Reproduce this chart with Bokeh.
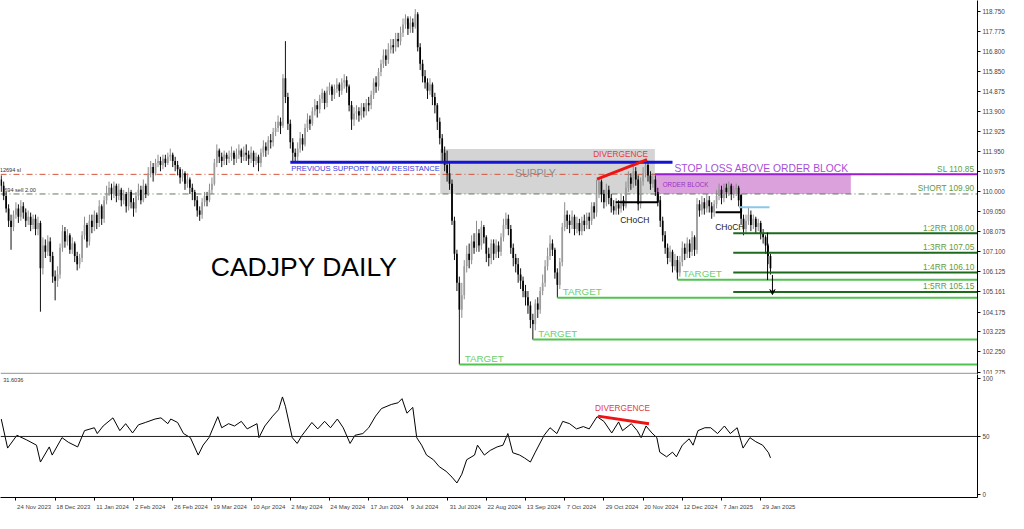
from bokeh.plotting import figure
from bokeh.layouts import column
from bokeh.models import (Range1d, FixedTicker, NumeralTickFormatter, Span, Label,
                          Arrow, VeeHead, CustomJSTickFormatter, ColumnDataSource)
from bokeh.core.properties import value
from bokeh.embed import file_html
from bokeh.resources import INLINE

# ---------------- data (CADJPY daily) ----------------
close = [
 110.3,109.8,109.2,108.6,108.3,108.9,109.2,108.8,109.3,109.0,
 108.6,108.8,108.4,108.7,108.2,108.5,106.3,107.4,107.1,107.6,
 106.9,105.9,105.7,106.0,107.3,108.1,107.6,107.9,107.2,107.5,
 106.9,106.5,106.8,107.9,108.4,107.6,108.6,108.3,108.9,108.5,
 109.3,108.7,109.6,109.9,110.2,109.9,110.3,109.8,110.1,109.6,
 109.9,109.3,110.0,109.5,109.2,109.8,110.1,109.6,110.3,109.9,
 110.9,111.2,110.9,111.4,111.5,111.3,111.6,111.4,111.7,111.8,
 111.5,111.3,111.1,110.7,110.9,110.4,110.6,110.2,110.0,109.6,
 109.1,108.9,109.5,109.8,109.6,110.1,110.4,111.4,112.0,111.7,
 111.5,111.8,111.6,111.7,111.9,111.6,111.8,112.0,111.7,111.9,
 111.8,111.6,111.9,111.5,111.7,111.4,111.9,112.2,112.0,112.5,
 112.4,112.9,113.1,113.4,113.2,115.5,114.6,113.3,112.4,111.9,
 111.7,112.1,112.6,112.3,113.1,113.5,113.3,113.9,114.2,114.0,
 114.5,114.8,114.3,114.9,115.1,114.7,115.0,115.2,114.9,115.3,
 115.4,115.1,114.2,113.5,113.8,113.9,113.7,114.1,113.9,114.3,
 114.2,114.7,115.3,115.1,115.8,116.2,116.6,116.4,116.9,117.1,
 117.0,117.4,117.3,117.7,118.1,118.4,117.9,118.2,118.0,118.6,
 117.0,116.2,115.6,115.3,114.9,115.2,114.6,114.2,113.4,112.6,
 111.9,111.3,110.9,110.4,108.6,107.0,105.6,104.3,105.0,106.4,
 107.0,106.7,107.6,107.3,108.0,107.4,108.3,107.8,107.0,106.8,
 107.5,107.0,107.4,107.1,107.8,108.4,108.7,108.2,107.3,106.8,
 106.5,106.0,105.7,105.2,104.9,104.5,103.8,103.6,104.6,104.3,
 105.2,105.6,106.4,106.9,107.5,107.2,106.1,105.5,106.6,108.3,
 108.9,108.6,108.4,108.8,108.2,108.5,108.1,108.6,108.4,108.8,
 108.6,109.3,109.0,109.9,110.5,109.9,109.5,110.1,109.7,109.3,
 109.1,109.4,109.2,109.6,109.3,110.2,110.7,110.4,111.0,110.6,
 109.4,110.5,110.9,111.3,110.8,110.4,110.6,110.0,109.6,108.6,
 107.9,107.3,106.8,107.1,106.4,106.7,106.1,106.6,107.3,107.0,
 107.5,107.1,107.8,107.2,109.4,109.1,109.5,109.2,109.6,109.3,
 109.0,109.4,109.8,110.1,109.7,110.2,110.0,110.3,109.9,110.1,
 110.2,109.6,108.7,108.2,108.6,108.9,108.4,108.7,108.3,108.5,
 108.0,107.8,107.4,106.9,106.3]
high = [
 110.8,110.5,110.0,109.4,108.9,109.1,109.5,109.4,109.6,109.5,
 109.2,109.1,109.0,108.9,108.9,108.8,108.6,107.8,107.7,107.9,
 107.8,107.1,106.2,106.4,107.5,108.4,108.3,108.2,108.0,107.8,
 107.6,107.1,107.0,108.1,108.8,108.5,108.9,108.9,109.1,109.0,
 109.6,109.4,109.8,110.3,110.5,110.4,110.5,110.4,110.4,110.2,
 110.1,110.0,110.2,110.1,109.7,110.0,110.4,110.3,110.6,110.4,
 111.2,111.5,111.4,111.6,111.8,111.7,111.8,111.8,111.9,112.1,
 111.9,111.7,111.5,111.2,111.1,111.0,110.9,110.7,110.4,110.1,
 109.8,109.3,109.7,110.0,110.0,110.4,110.7,111.6,112.3,112.1,
 111.9,112.0,111.9,112.0,112.2,112.0,112.1,112.3,112.1,112.2,
 112.3,112.0,112.2,112.0,111.9,111.8,112.1,112.5,112.4,112.7,
 112.8,113.1,113.4,113.7,113.6,115.7,117.3,114.8,113.5,112.6,
 112.1,112.4,112.9,112.8,113.3,113.8,113.7,114.1,114.5,114.4,
 114.7,115.0,114.9,115.1,115.3,115.2,115.2,115.5,115.3,115.5,
 115.7,115.6,115.2,114.4,114.1,114.2,114.1,114.3,114.3,114.5,
 114.6,114.9,115.5,115.6,116.0,116.4,116.9,116.9,117.2,117.4,
 117.4,117.7,117.7,118.0,118.4,118.6,118.5,118.5,118.4,118.85,
 118.7,117.2,116.4,115.9,115.5,115.5,115.3,114.8,114.3,113.6,
 112.8,112.2,112.0,111.5,110.6,108.8,107.2,105.9,105.6,106.7,
 107.4,107.5,107.9,108.0,108.6,108.2,108.6,108.4,107.9,107.3,
 107.7,107.7,107.7,107.6,108.0,108.7,109.0,108.9,108.4,107.5,
 107.0,106.8,106.3,105.9,105.5,105.2,104.7,104.1,104.8,104.9,
 105.4,106.0,106.7,107.3,107.9,107.7,107.3,106.3,106.8,108.5,
 109.5,109.1,108.9,109.1,108.9,108.8,108.7,108.8,108.9,109.0,
 109.0,109.5,109.5,110.6,110.7,110.6,110.1,110.4,110.3,109.9,
 109.6,109.7,109.6,109.9,109.8,110.5,111.0,110.9,111.3,111.2,
 110.8,110.7,111.2,111.6,111.5,111.0,110.9,110.8,110.2,109.8,
 108.8,108.1,107.5,107.4,107.2,107.0,106.9,106.9,107.6,107.5,
 107.8,107.7,108.1,107.9,109.7,109.6,109.8,109.7,109.9,109.8,
 109.5,109.6,110.1,110.4,110.3,110.4,110.4,110.5,110.4,110.3,
 110.4,110.3,109.8,108.9,108.9,109.3,109.1,108.9,108.8,108.7,
 108.6,108.2,107.9,107.5,107.0]
low = [
 110.0,109.6,109.0,108.3,107.2,108.1,108.7,108.5,108.6,108.7,
 108.3,108.4,108.1,108.2,107.9,107.9,104.2,106.0,106.8,106.9,
 106.6,105.6,104.75,105.4,105.8,107.1,107.3,107.4,107.0,107.0,
 106.6,106.2,106.3,106.6,107.7,107.3,107.4,108.0,108.1,108.2,
 108.3,108.4,108.5,109.4,109.8,109.6,109.7,109.5,109.6,109.3,
 109.4,109.0,109.1,109.2,108.8,109.0,109.6,109.4,109.5,109.7,
 109.8,110.7,110.5,110.8,111.2,111.0,111.1,111.2,111.3,111.5,
 111.2,111.0,110.8,110.4,110.5,110.1,110.2,109.9,109.6,109.3,
 108.8,108.6,108.7,109.3,109.3,109.5,109.9,110.3,111.2,111.4,
 111.2,111.3,111.3,111.4,111.5,111.3,111.4,111.6,111.4,111.5,
 111.5,111.3,111.4,111.2,111.3,111.0,111.2,111.7,111.7,111.8,
 112.1,112.2,112.7,112.9,112.8,113.1,114.3,113.0,112.1,111.5,
 111.4,111.5,111.9,112.0,112.2,112.9,113.0,113.2,113.7,113.6,
 113.8,114.3,114.0,114.1,114.7,114.4,114.5,114.8,114.6,114.7,
 115.0,114.8,113.9,113.0,113.2,113.5,113.4,113.5,113.6,113.7,
 113.9,114.0,114.5,114.8,114.9,115.6,116.0,116.1,116.2,116.7,
 116.7,116.8,117.0,117.1,117.5,117.9,117.6,117.7,117.7,117.9,
 116.8,115.9,115.3,115.0,114.5,114.7,114.2,113.8,113.0,112.3,
 111.5,111.0,110.5,110.1,108.4,106.7,105.2,101.65,103.9,104.8,
 106.1,106.3,106.5,107.0,107.1,107.1,107.2,107.5,106.6,106.4,
 106.5,106.7,106.8,106.8,106.9,107.6,108.2,107.9,107.0,106.4,
 106.1,105.6,105.3,104.9,104.5,104.1,103.4,102.85,103.3,103.9,
 104.1,105.0,105.4,106.2,106.7,106.9,105.8,104.88,105.3,106.4,
 108.1,108.2,108.0,108.2,107.9,108.0,107.9,107.9,108.1,108.2,
 108.2,108.4,108.7,108.8,109.7,109.5,109.2,109.3,109.4,109.0,
 108.9,108.9,108.9,109.0,109.1,109.2,110.0,110.1,110.2,110.3,
 109.1,109.2,110.3,110.7,110.5,110.1,110.2,109.8,109.3,108.3,
 107.6,107.0,106.5,106.6,106.1,106.2,105.75,105.9,106.4,106.7,
 106.8,106.8,106.9,106.9,107.0,108.8,108.9,108.9,109.0,109.0,
 108.7,108.8,109.2,109.6,109.4,109.5,109.7,109.8,109.6,109.7,
 109.8,109.3,108.4,107.9,108.0,108.4,108.1,108.2,108.0,108.1,
 107.7,107.5,107.0,106.5,106.0]
first_open = 110.6

rsi_bar = [0, 2.6, 6.4, 10.4, 14.4, 16, 19.6, 20.8, 24.8, 27.4,
           31.2, 34, 38, 39.2, 41.6, 45.6, 48.4, 50.8, 53.6, 56,
           58.8, 62.8, 65.2, 68, 69.2, 72, 74.4, 77.2, 80.4, 82.4,
           84.8, 88.4, 90, 92.8, 95.2, 98, 100.4, 104.4, 105.2, 107.6,
           110.8, 113.2, 114.8, 116, 118.8, 120.8, 122.8, 126.8, 129.2, 132,
           134.4, 137.2, 139.6, 142.4, 144.4, 147.6, 150, 152.8, 155.2, 159.2,
           162, 163.6, 165.6, 168, 169.6, 171.6, 173.6, 176.4, 178.8, 181.6,
           184, 186, 188, 190, 193.2, 194.4, 197.2, 199.6, 202.4, 204.8,
           206.8, 208.8, 211.6, 213.6, 216, 218, 221.6, 224, 226.8, 229.2,
           232, 234.8, 237.6, 240, 243.2, 246, 249.2, 252, 253.6, 257.2,
           259.6, 261.2, 263.2, 265.6, 267.6, 268.8, 271.6, 274, 275.6, 278,
           280.8, 282.4, 284.4, 287.2, 289.6, 292.4, 295.2, 297.6, 300.4, 302.8,
           305.6, 308, 310.8, 313.2, 314]
rsi_val = [65, 40, 51, 47, 42.5, 28, 41, 34, 49, 45,
           41, 55, 57.5, 52.5, 59, 66, 55, 61, 53, 60,
           62, 65, 66, 61, 65, 62, 52.5, 49, 34, 42.5,
           49, 67, 57.5, 61, 59, 63, 56.5, 61, 49, 59,
           67.5, 73, 84, 76, 49, 44, 51, 62, 56.5, 63,
           57.5, 65, 57.5, 44, 51, 52.5, 57.5, 67.5, 74, 77.5,
           79, 82.5, 70, 75, 49, 42.5, 34, 30, 24, 20,
           15, 10, 17.5, 30, 34, 42.5, 34, 38, 41, 42.5,
           52.5, 36, 34, 31.5, 28, 36.5, 51, 57.5, 52.5, 63,
           61, 56.5, 58.5, 56.5, 67, 63, 53, 62.5, 55, 61,
           55, 49, 59, 53, 49, 36.5, 32.5, 36.5, 32.5, 42.5,
           48, 42.5, 55, 57.5, 57.5, 52.5, 59, 52.5, 57.5, 40,
           49, 45.5, 42.5, 36, 31.6]
rsi_now = "31.6036"

price_ticks = [118.750, 117.775, 116.800, 115.850, 114.875, 113.900, 112.925, 111.950,
               110.975, 110.000, 109.050, 108.075, 107.100, 106.125, 105.161, 104.175,
               103.225, 102.250, 101.275]
last_price = 105.161
rsi_ticks = [0, 50, 100]

date_labels = ["24 Nov 2023", "18 Dec 2023", "11 Jan 2024", "2 Feb 2024", "26 Feb 2024",
               "19 Mar 2024", "10 Apr 2024", "2 May 2024", "24 May 2024", "17 Jun 2024",
               "9 Jul 2024", "31 Jul 2024", "22 Aug 2024", "13 Sep 2024", "7 Oct 2024",
               "29 Oct 2024", "20 Nov 2024", "12 Dec 2024", "7 Jan 2025", "29 Jan 2025"]
date_bars = [6, 22, 38, 54, 70, 86, 102, 118, 134, 150, 166, 182, 198, 214, 230, 246,
             262, 278, 294, 310]

sl_price = 110.85
entry_price = 109.90
resistance_price = 111.44
supply_top = 112.08
rr_names = ["1:2RR", "1:3RR", "1:4RR", "1:5RR"]
rr_prices = [108.00, 107.05, 106.10, 105.15]
target_bars = [187, 217, 227, 276]
target_prices = [101.65, 102.85, 104.88, 105.75]
div_price_bars = [243.2, 263.6]
div_price_vals = [110.62, 111.56]
div_rsi_bars = [243.6, 264.4]
div_rsi_vals = [67.5, 61.0]
choch1_level = 109.50
choch2_level = 109.02
retest_level = 109.26

# ---------------- layout ----------------
W, RB = 1008, 29
H1, H2 = 374, 139
X_END = 398.5
XR = Range1d(-0.3, X_END)
FONT = "Liberation Sans"
FRAME_R = W - RB

p = figure(width=W, height=H1, x_range=XR, y_range=Range1d(101.16, 119.267),
           output_backend="svg", toolbar_location=None, x_axis_location=None,
           y_axis_location="right", min_border_left=0, min_border_right=RB,
           min_border_top=0, min_border_bottom=0, outline_line_color=None)
p.grid.visible = False
ax = p.yaxis[0]
ax.ticker = FixedTicker(ticks=price_ticks)
ax.formatter = NumeralTickFormatter(format="0.000")
ax.major_label_text_font_size = "6.3px"
ax.major_label_text_font = FONT
ax.major_tick_out = 3
ax.major_tick_in = 0
ax.minor_tick_out = 0
ax.major_label_standoff = 2
ax.axis_line_color = "black"


def txt(fig, x, y, s, color, size, align="left", baseline="middle", style="normal"):
    fig.text(x=[x], y=[y], text=[s], text_color=color, text_font_size=f"{size}px",
             text_align=align, text_baseline=baseline, text_font=value(FONT),
             text_font_style=style)


# zones
p.quad(left=[179.2], right=[266.8], top=[supply_top], bottom=[entry_price],
       fill_color="#d4d4d4", line_color=None)
p.quad(left=[266.8], right=[346.8], top=[sl_price], bottom=[entry_price],
       fill_color="#dba1dc", line_color=None)

# trade lines
p.line([-0.3, X_END], [sl_price, sl_price], line_color="#d2553c", line_width=1,
       line_dash="6 3 1 3")
p.line([-0.3, X_END], [entry_price, entry_price], line_color="#5f7a5f", line_width=1,
       line_dash="6 3 1 3")

# candles
opens = [first_open] + close[:-1]
n = len(close)
up = [i for i in range(n) if close[i] >= opens[i]]
dn = [i for i in range(n) if close[i] < opens[i]]
src_up = ColumnDataSource(dict(x=up, top=[close[i] for i in up], bottom=[opens[i] for i in up],
                               hi=[high[i] for i in up], lo=[low[i] for i in up]))
src_dn = ColumnDataSource(dict(x=dn, top=[opens[i] for i in dn], bottom=[close[i] for i in dn],
                               hi=[high[i] for i in dn], lo=[low[i] for i in dn]))
p.segment(x0="x", y0="hi", x1="x", y1="lo", source=src_up, line_color="#8c8c8c", line_width=1)
p.segment(x0="x", y0="hi", x1="x", y1="lo", source=src_dn, line_color="#111111", line_width=1)
p.vbar(x="x", width=0.7, top="top", bottom="bottom", source=src_up,
       fill_color="#9c9c9c", line_color=None)
p.vbar(x="x", width=0.7, top="top", bottom="bottom", source=src_dn,
       fill_color="#000000", line_color=None)

# resistance line
p.line([118, 274], [resistance_price, resistance_price], line_color="#1414d2", line_width=3)
# stop loss line (purple)
p.line([266.8, X_END], [sl_price, sl_price], line_color="#9a1fd0", line_width=2)
# divergence on price
p.line(div_price_bars, div_price_vals, line_color="#ee1414", line_width=3)
# CHoCH brackets
p.line([250.8, 268, 268], [choch1_level, choch1_level, entry_price], line_color="black", line_width=2)
p.line([291.6, 302, 302], [choch2_level, choch2_level, 109.87], line_color="black", line_width=2)
# retest line
p.line([301.2, 313.6], [retest_level, retest_level], line_color="#88c8ec", line_width=2)
# RR lines
for nm, pr in zip(rr_names, rr_prices):
    p.line([298.8, X_END], [pr, pr], line_color="#1d6a1d", line_width=2)
    txt(p, 397.2, pr + 0.03, f"{nm} {pr:.2f}", "#5f9a45", 8.3, align="right", baseline="bottom")
# targets
for tb, tp in zip(target_bars, target_prices):
    p.line([tb, X_END], [tp, tp], line_color="#50c350", line_width=2)
    txt(p, tb + 2.2, tp + 0.29, "TARGET", "#6ccf6c", 9.8)
# trade marker lines
p.line([312.8, 312.8], [108.03, 105.73], line_color="black", line_width=1)
p.add_layout(Arrow(end=VeeHead(size=5, line_color="black", line_width=1, fill_color="black"),
                   x_start=314.8, y_start=105.98, x_end=314.8, y_end=105.03,
                   line_color="black", line_width=1))

# texts
txt(p, 123.6, 106.35, "CADJPY DAILY", "#000000", 26.5, align="center")
txt(p, 118.4, 111.14, "PREVIOUS SUPPORT NOW RESISTANCE", "#3a3ae0", 7.6)
txt(p, 218, 110.92, "SUPPLY", "#8c8c8c", 10.5, align="center")
txt(p, 252.8, 111.85, "DIVERGENCE", "#e23c3c", 8.3, align="center")
txt(p, 274.8, 111.14, "STOP LOSS ABOVE ORDER BLOCK", "#a64fd6", 10.3)
txt(p, 270, 110.37, "ORDER BLOCK", "#9a32c0", 6.3)
txt(p, 258.6, 108.65, "CHoCH", "#222222", 8.5, align="center")
txt(p, 297.4, 108.28, "CHoCH", "#222222", 8.5, align="center")
txt(p, 397.2, sl_price + 0.03, f"SL {sl_price:.2f}", "#5f9a45", 8.3, align="right", baseline="bottom")
txt(p, 397.2, entry_price + 0.03, f"SHORT {entry_price:.2f}", "#5f9a45", 8.3, align="right", baseline="bottom")
txt(p, -0.6, sl_price + 0.05, "12694 sl", "#333333", 5.6, baseline="bottom")
txt(p, 1.2, entry_price + 0.05, "694 sell 2.00", "#333333", 5.6, baseline="bottom")

p.add_layout(Span(location=101.2, dimension="width", line_color="#a8a8a8", line_width=2))
p.add_layout(Label(x=FRAME_R + 4, x_units="canvas", y=last_price, text=f"{last_price:.3f}",
                   text_font_size="6.3px", text_font=FONT, text_color="white",
                   text_baseline="middle", background_fill_color="black"))

# ---------------- RSI panel ----------------
p2 = figure(width=W, height=H2, x_range=XR, y_range=Range1d(-2.5, 103.3),
            output_backend="svg", toolbar_location=None, y_axis_location="right",
            min_border_left=0, min_border_right=RB, min_border_top=0, min_border_bottom=16,
            outline_line_color=None)
p2.grid.visible = False
ay = p2.yaxis[0]
ay.ticker = FixedTicker(ticks=rsi_ticks)
ay.major_label_text_font_size = "6.3px"
ay.major_label_text_font = FONT
ay.major_tick_out = 3
ay.major_tick_in = 0
ay.minor_tick_out = 0
ay.major_label_standoff = 2
ay.axis_line_color = "black"

centers = [b + (1.5 + len(s) * 3.05 / 2) / 2.46 for b, s in zip(date_bars, date_labels)]
axx = p2.xaxis[0]
axx.ticker = FixedTicker(ticks=centers, minor_ticks=date_bars)
axx.formatter = CustomJSTickFormatter(args=dict(pos=centers, labs=date_labels), code="""
let k = 0, best = 1e9;
for (let j = 0; j < pos.length; j++) { const d = Math.abs(pos[j] - tick); if (d < best) { best = d; k = j; } }
return labs[k];
""")
axx.major_tick_out = 0
axx.major_tick_in = 0
axx.minor_tick_out = 3
axx.minor_tick_in = 0
axx.minor_tick_line_color = "black"
axx.major_label_standoff = 3
axx.major_label_text_font_size = "6px"
axx.major_label_text_font = FONT
axx.axis_line_color = "black"

p2.add_layout(Span(location=50, dimension="width", line_color="#202020", line_width=1))
p2.line(rsi_bar, rsi_val, line_color="black", line_width=1)
p2.line(div_rsi_bars, div_rsi_vals, line_color="#ee1414", line_width=3)
txt(p2, 253.6, 74.2, "DIVERGENCE", "#e23c3c", 8.3, align="center")
txt(p2, 0.8, 98.5, rsi_now, "#333333", 5.6)
p2.add_layout(Label(x=FRAME_R + 4, x_units="canvas", y=50, text="50",
                    text_font_size="6.3px", text_font=FONT, text_color="white",
                    text_baseline="middle", background_fill_color="black"))

layout = column(p, p2, spacing=0)
open("out.html", "w").write(file_html(layout, INLINE))
